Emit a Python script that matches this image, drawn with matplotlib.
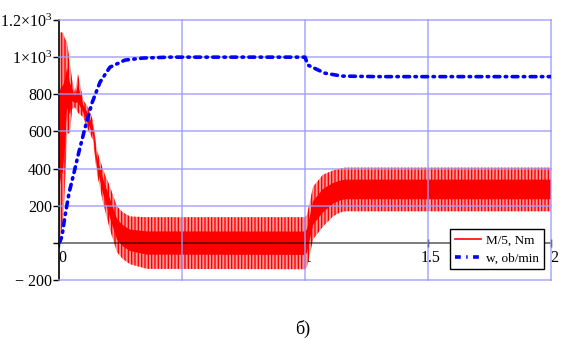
import numpy as np
import matplotlib
matplotlib.use('Agg')
import matplotlib.pyplot as plt
from matplotlib.lines import Line2D
from matplotlib.transforms import ScaledTranslation

plt.rcParams['font.family'] = ['Liberation Serif', 'DejaVu Serif']
plt.rcParams['mathtext.fontset'] = 'custom'
plt.rcParams['mathtext.rm'] = 'Liberation Serif'
plt.rcParams['hatch.linewidth'] = 1.0

# M/5 torque: upper / lower envelope of the oscillating trace
t_m = [0, 0.004, 0.008, 0.016, 0.024, 0.033, 0.045, 0.053, 0.065, 0.077, 0.098,
       0.118, 0.138, 0.154, 0.179, 0.207, 0.236, 0.260, 0.289, 0.358, 0.99, 1.0,
       1.008, 1.033, 1.073, 1.114, 1.142, 1.163, 2.0]
m_hi = [0, 1130, 1135, 1130, 1100, 1080, 960, 880, 810, 910, 770,
        730, 660, 500, 394, 303, 196, 164, 142, 138, 138, 140,
        150, 303, 367, 390, 400, 405, 405]
m_lo = [0, 0, 60, 100, 300, 590, 590, 720, 730, 700, 678,
        608, 555, 378, 217, 72, -51, -88, -115, -140, -142, -142,
        -130, 19, 88, 143, 163, 170, 170]

# speed w, ob/min
t_w = [0, 0.004, 0.012, 0.024, 0.041, 0.061, 0.081, 0.106, 0.134, 0.167, 0.207,
       0.268, 0.341, 0.45, 1.0, 1.012, 1.08, 1.15, 1.3, 2.0]
w = [0, 8, 35, 142, 270, 378, 490, 620, 753, 866, 946,
     984, 995, 1000, 1000, 957, 914, 898, 895, 895]

y_ticks = [-200, 0, 200, 400, 600, 800, 1000, 1200]
y_labels = ['\u2212 200', '', '200', '400', '600', '800',
            r'$\mathregular{1{\times}10^3}$', r'$\mathregular{1.2{\times}10^3}$']
x_ticks = [0, 0.5, 1, 1.5, 2]
x_labels = ['0', '0.5', '1', '1.5', '2']

w_style = (0, (1.6, 1.5, 0.4, 1.5))

fig = plt.figure(figsize=(5.61, 3.40), dpi=100)
ax = fig.add_axes([59/561, 60/340, 492/561, 260/340])

t_m = np.array(t_m)
hi = np.array(m_hi)
lo = np.array(m_lo)
mid = (hi + lo) / 2
half = (hi - lo) / 2

# outer envelope: pink with dense red vertical strokes, inner core solid red
ax.fill_between(t_m, lo, hi, facecolor='#ff9a9a', edgecolor='red',
                hatch='|||||', linewidth=0, zorder=2)
ax.fill_between(t_m, mid - 0.45*half, mid + 0.45*half, facecolor='red',
                linewidth=0, zorder=2.1)

ax.plot(t_w, w, color='#0000ff', lw=2.6, linestyle=w_style,
        dash_capstyle='round', zorder=5)

# grid on top, light blue
for y in y_ticks:
    if y != 0:
        ax.axhline(y, color='#9c9cff', lw=1.3, alpha=0.75, zorder=4, clip_on=False)
for x in x_ticks[1:]:
    ax.axvline(x, color='#9c9cff', lw=1.3, alpha=0.75, zorder=4, clip_on=False)

ax.set_xlim(0, 2)
ax.set_ylim(-200, 1200)

for s in ['top', 'right']:
    ax.spines[s].set_visible(False)
ax.spines['left'].set_color('black')
ax.spines['left'].set_linewidth(1.2)
ax.spines['bottom'].set_position(('data', 0))
ax.spines['bottom'].set_color('black')
ax.spines['bottom'].set_linewidth(1.2)
ax.spines['bottom'].set_zorder(3)
ax.spines['bottom'].set_alpha(0.6)

ax.set_yticks(y_ticks)
ax.set_yticklabels(y_labels, fontsize=11.5)
ax.tick_params(axis='y', direction='out', length=4, width=1, pad=1)
ax.set_xticks(x_ticks)
ax.set_xticklabels(x_labels, fontsize=11.5)
ax.tick_params(axis='x', direction='inout', length=6, width=1, pad=2)
off = ScaledTranslation(3/100, 0, fig.dpi_scale_trans)
for lbl in ax.get_xticklabels():
    lbl.set_transform(lbl.get_transform() + off)
ax.xaxis.set_zorder(1.5)

handles = [Line2D([], [], color='red', lw=1.2),
           Line2D([], [], color='#0000ff', lw=2.6, linestyle=w_style)]
leg = ax.legend(handles, ['M/5, Nm', 'w, ob/min'], loc='lower right',
                bbox_to_anchor=(0.986, 0.042), borderaxespad=0, fontsize=9.5,
                fancybox=False, framealpha=1, edgecolor='black', borderpad=0.35,
                labelspacing=0.45, handlelength=2.0, handletextpad=0.4)
leg.get_frame().set_linewidth(1.0)
leg.set_zorder(10)

fig.text(303/561, 1 - 329/340, 'б)', ha='center', va='center', fontsize=13)

fig.savefig('out.png', dpi=100)
